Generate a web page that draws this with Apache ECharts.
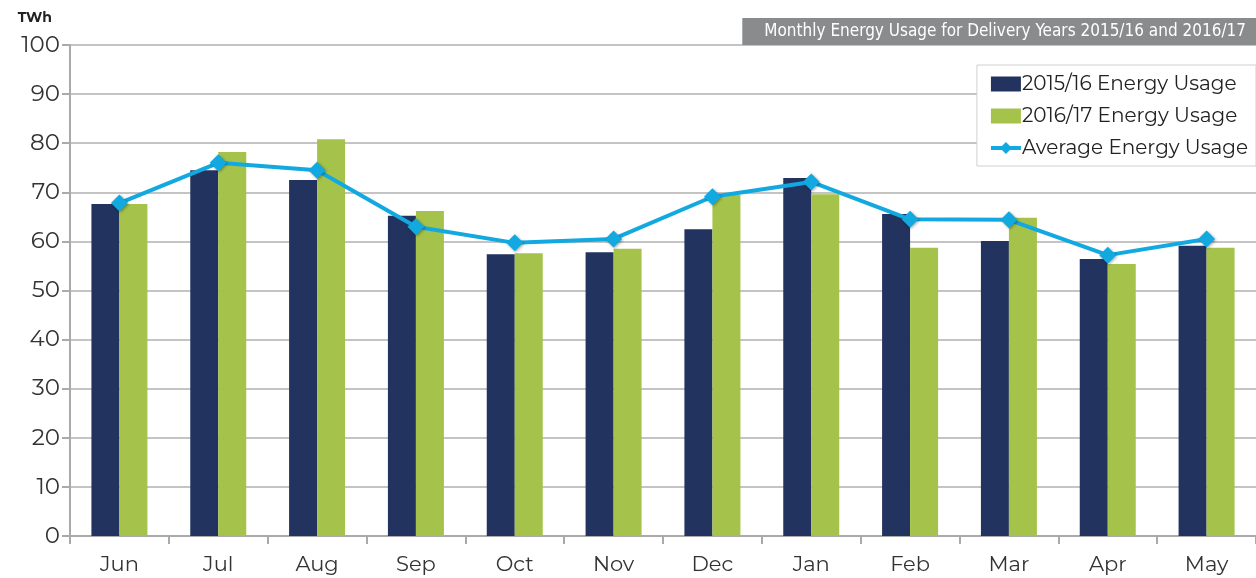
<!DOCTYPE html>
<html>
<head>
<meta charset="utf-8">
<script src="https://cdn.jsdelivr.net/npm/echarts@6/dist/echarts.min.js"></script>
<style>
  html, body { margin: 0; padding: 0; background: #fff; }
  #chart { width: 1256px; height: 578px; }
</style>
</head>
<body>
<div id="chart"></div>
<script>
// Chart data
const months = ['Jun', 'Jul', 'Aug', 'Sep', 'Oct', 'Nov', 'Dec', 'Jan', 'Feb', 'Mar', 'Apr', 'May'];
const usage1516 = [67.6, 74.5, 72.5, 65.2, 57.4, 57.8, 62.5, 72.9, 65.6, 60.1, 56.4, 59.1];
const usage1617 = [67.6, 78.2, 80.8, 66.2, 57.6, 58.5, 69.5, 69.6, 58.7, 64.8, 55.4, 58.7];
const usageAvg = [67.8, 76.0, 74.5, 63.0, 59.7, 60.5, 69.1, 72.1, 64.5, 64.4, 57.2, 60.5];
const titleText = 'Monthly Energy Usage for Delivery Years 2015/16 and 2016/17';

const chart = echarts.init(document.getElementById('chart'));

const labelFont = "Montserrat, 'Noto Sans', 'DejaVu Sans', sans-serif";

chart.setOption({
  animation: false,
  title: {
    text: titleText,
    right: 0,
    top: 18,
    backgroundColor: '#8a8b8d',
    padding: [5, 10, 5, 22],
    textStyle: {
      color: '#ffffff',
      fontSize: 17,
      fontWeight: 'normal',
      fontFamily: "'DejaVu Sans Condensed', 'Liberation Sans Narrow', sans-serif"
    }
  },
  legend: {
    orient: 'vertical',
    right: 0,
    top: 65,
    backgroundColor: '#ffffff',
    borderColor: '#d0d0d0',
    borderWidth: 1,
    padding: [9, 8, 8, 12],
    itemGap: 12,
    itemWidth: 30,
    itemHeight: 15,
    textStyle: {
      color: '#222',
      fontSize: 20,
      fontFamily: labelFont,
      padding: [0, 0, 0, -4]
    },
    data: [
      { name: '2015/16 Energy Usage', icon: 'rect' },
      { name: '2016/17 Energy Usage', icon: 'rect' },
      { name: 'Average Energy Usage', lineStyle: { width: 4 } }
    ]
  },
  grid: {
    left: 70,
    right: 0,
    top: 45,
    bottom: 42,
    containLabel: false
  },
  xAxis: {
    type: 'category',
    data: months,
    axisLine: { lineStyle: { color: '#aaaaaa', width: 2 } },
    axisTick: { show: true, length: 8, lineStyle: { color: '#aaaaaa', width: 2 } },
    axisLabel: {
      color: '#333',
      fontSize: 21,
      fontFamily: labelFont,
      margin: 18
    }
  },
  yAxis: {
    type: 'value',
    min: 0,
    max: 100,
    interval: 10,
    name: 'TWh',
    nameLocation: 'end',
    nameGap: 20,
    nameTextStyle: {
      color: '#222',
      fontSize: 14,
      fontWeight: 'bold',
      fontFamily: labelFont,
      align: 'right',
      padding: [0, 18, 0, 0]
    },
    axisLine: { show: true, lineStyle: { color: '#aaaaaa', width: 2 } },
    axisTick: { show: true, length: 8, lineStyle: { color: '#aaaaaa', width: 2 } },
    axisLabel: {
      color: '#333',
      fontSize: 23,
      fontFamily: labelFont,
      margin: 10
    },
    splitLine: { lineStyle: { color: '#c4c4c4', width: 2 } }
  },
  series: [
    {
      name: '2015/16 Energy Usage',
      type: 'bar',
      data: usage1516,
      barWidth: 28,
      barGap: '0%',
      itemStyle: { color: '#22335f' }
    },
    {
      name: '2016/17 Energy Usage',
      type: 'bar',
      data: usage1617,
      barWidth: 28,
      itemStyle: { color: '#a5c34a' }
    },
    {
      name: 'Average Energy Usage',
      type: 'line',
      data: usageAvg,
      symbol: 'diamond',
      symbolSize: 17,
      lineStyle: { color: '#12a9e1', width: 4 },
      itemStyle: {
        color: '#12a9e1',
        shadowColor: 'rgba(0,0,0,0.35)',
        shadowBlur: 3,
        shadowOffsetX: 1,
        shadowOffsetY: 1
      },
      z: 5
    }
  ]
});
</script>
</body>
</html>
